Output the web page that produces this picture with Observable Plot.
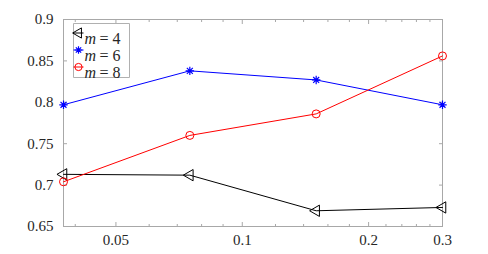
<!DOCTYPE html>
<html>
<head>
<meta charset="utf-8">
<script src="https://cdn.jsdelivr.net/npm/d3@7"></script>
<script src="https://cdn.jsdelivr.net/npm/@observablehq/plot@0.6"></script>
</head>
<body style="margin:0;background:#fff">
<div id="wrap" style="position:relative;width:488px;height:254px"></div>
<script>
const xValues = [0.0375, 0.075, 0.15, 0.3];
const m4 = [0.713, 0.712, 0.669, 0.673];
const m6 = [0.797, 0.838, 0.827, 0.797];
const m8 = [0.704, 0.760, 0.786, 0.856];
const seriesNames = ["4", "6", "8"];
const seriesColors = ["#000000", "#0000ff", "#ff0000"];
const xTicks = [0.05, 0.1, 0.2, 0.3];
const xMinorTicks = [0.04, 0.06, 0.07, 0.08, 0.09, 0.12, 0.14, 0.16, 0.18, 0.22, 0.24, 0.26, 0.28];
const yTicks = [0.65, 0.7, 0.75, 0.8, 0.85, 0.9];

const FONT = "Liberation Serif";

// 8-armed asterisk (MATLAB '*')
const asterisk8 = {
  draw(context, size) {
    const r = Math.sqrt(size / Math.PI);
    const d = r * Math.SQRT1_2;
    context.moveTo(-r, 0); context.lineTo(r, 0);
    context.moveTo(0, -r); context.lineTo(0, r);
    context.moveTo(-d, -d); context.lineTo(d, d);
    context.moveTo(-d, d); context.lineTo(d, -d);
  }
};
// legend box (56 x 54 px), drawn from its top-left corner
const legendBox = {
  draw(context) {
    context.rect(0, 0, 56, 54);
  }
};
const shortLine = {
  draw(context) {
    context.moveTo(-5, 0); context.lineTo(5, 0);
  }
};

const seriesValues = [m4, m6, m8];
const data = [];
seriesValues.forEach((vals, i) => vals.forEach((v, j) => data.push({s: seriesNames[i], x: xValues[j], y: v, c: seriesColors[i]})));

const axisColor = "#a8a8a8";
const textColor = "#262626";
const markFor = (s) => data.filter(d => d.s === s);

const symbols = ["triangle", asterisk8, "circle"];
const rotates = [-90, 0, 0];
const radii = [4.2, 4.2, 4];
const widths = [1, 1.2, 1];

const legendMarks = [
  Plot.dot([0], { frameAnchor: "top-left", dx: 10, dy: 4, symbol: legendBox, r: 1, stroke: "#b0b0b0", fill: "white", strokeWidth: 1 })
];
seriesNames.forEach((name, i) => {
  const dy = 13.5 + i * 17;
  legendMarks.push(
    Plot.dot([name], { frameAnchor: "top-left", dx: 15, dy, symbol: shortLine, r: 1, stroke: seriesColors[i], strokeWidth: 1 }),
    Plot.dot([name], { frameAnchor: "top-left", dx: 15, dy, symbol: symbols[i], rotate: rotates[i], r: radii[i] * 0.9, stroke: seriesColors[i], fill: "none", strokeWidth: widths[i] }),
    Plot.text([name], { frameAnchor: "top-left", dx: 21, dy, text: () => "m", textAnchor: "start", fontStyle: "italic", fontFamily: FONT, fontSize: 16, fill: textColor }),
    Plot.text([name], { frameAnchor: "top-left", dx: 36, dy, text: d => "= " + d, textAnchor: "start", fontFamily: FONT, fontSize: 16, fill: textColor })
  );
});

const chart = Plot.plot({
  width: 488,
  height: 254,
  marginLeft: 63,
  marginRight: 46,
  marginTop: 19,
  marginBottom: 28,
  style: { fontFamily: FONT, fontSize: "15px", background: "white" },
  x: { type: "log", domain: [0.0375, 0.3] },
  y: { domain: [0.65, 0.9] },
  marks: [
    Plot.frame({ stroke: axisColor, strokeWidth: 1 }),
    Plot.axisX(xTicks, { anchor: "bottom", tickSize: -4, stroke: axisColor, tickFormat: () => "", label: null }),
    Plot.axisX(xTicks, { anchor: "top", tickSize: -4, stroke: axisColor, tickFormat: () => "", label: null }),
    Plot.axisX(xMinorTicks, { anchor: "bottom", tickSize: -2, stroke: axisColor, tickFormat: () => "", label: null }),
    Plot.axisX(xMinorTicks, { anchor: "top", tickSize: -2, stroke: axisColor, tickFormat: () => "", label: null }),
    Plot.axisY(yTicks, { anchor: "left", tickSize: -4, stroke: axisColor, tickFormat: () => "", label: null }),
    Plot.axisY(yTicks, { anchor: "right", tickSize: -4, stroke: axisColor, tickFormat: () => "", label: null }),
    Plot.axisX(xTicks, { anchor: "bottom", tickSize: 0, tickPadding: 8, tickFormat: d => String(d), label: null, fill: textColor, fontSize: 15, fontFamily: FONT }),
    Plot.axisY(yTicks, { anchor: "left", tickSize: 0, tickPadding: 10, tickFormat: d => String(d), label: null, fill: textColor, fontSize: 15, fontFamily: FONT }),
    Plot.line(data, { x: "x", y: "y", z: "s", stroke: "c", strokeWidth: 1 }),
    Plot.dot(markFor("4"), { x: "x", y: "y", stroke: "c", symbol: "triangle", rotate: -90, r: 4.2, fill: "none", strokeWidth: 1 }),
    Plot.dot(markFor("6"), { x: "x", y: "y", stroke: "c", symbol: asterisk8, r: 4.2, fill: "none", strokeWidth: 1.2 }),
    Plot.dot(markFor("8"), { x: "x", y: "y", stroke: "c", symbol: "circle", r: 4, fill: "none", strokeWidth: 1 }),
    ...legendMarks
  ]
});

document.getElementById("wrap").appendChild(chart);
</script>
</body>
</html>
